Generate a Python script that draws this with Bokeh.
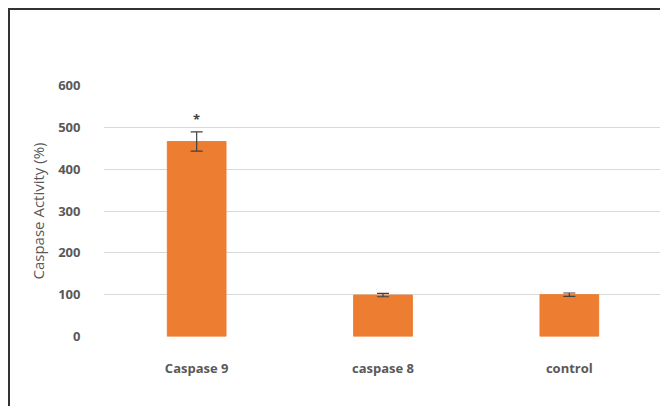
from bokeh.plotting import figure
from bokeh.models import ColumnDataSource, Whisker, TeeHead, Range1d, FactorRange, SingleIntervalTicker
from bokeh.embed import file_html
from bokeh.resources import INLINE
from bokeh.core.properties import value

categories = ["Caspase 9", "caspase 8", "control"]
activity = [466, 99, 100]
errors = [23, 4, 4]
significance = ["*", "", ""]

upper = [a + e for a, e in zip(activity, errors)]
lower = [a - e for a, e in zip(activity, errors)]
star_y = [u + 30 for u in upper]

src = ColumnDataSource(dict(cat=categories, act=activity, up=upper, lo=lower,
                            sig=significance, sy=star_y))

p = figure(width=652, height=398, output_backend="svg", toolbar_location=None,
           x_range=FactorRange(*categories, range_padding=0), y_range=Range1d(0, 600),
           min_border_left=93, min_border_right=0, min_border_top=75, min_border_bottom=72)
p.margin = (8, 0, 0, 8)
p.styles = {"border-top": "2px solid #333333", "border-left": "2px solid #333333"}
p.outline_line_color = None
p.background_fill_color = "white"

p.vbar(x="cat", top="act", width=0.315, source=src, fill_color="#ED7D31", line_color="#ED7D31")

w = Whisker(base="cat", upper="up", lower="lo", source=src, line_color="#404040", line_width=1.2,
            upper_head=TeeHead(size=12, line_color="#404040", line_width=1.2),
            lower_head=TeeHead(size=12, line_color="#404040", line_width=1.2))
w.level = "annotation"
p.add_layout(w)

p.text(x="cat", y="sy", text="sig", source=src, text_align="center", text_baseline="middle",
       text_font=value("Open Sans"), text_font_size="13px", text_color="#404040",
       text_font_style="bold")

p.yaxis.ticker = SingleIntervalTicker(interval=100)
p.ygrid.grid_line_color = "#D9D9D9"
p.ygrid.grid_line_width = 1
p.xgrid.grid_line_color = None

for ax in (p.xaxis[0], p.yaxis[0]):
    ax.axis_line_color = None
    ax.major_tick_line_color = None
    ax.minor_tick_line_color = None
    ax.major_label_text_font = "Open Sans"
    ax.major_label_text_color = "#595959"
    ax.major_label_text_font_style = "bold"

p.yaxis.major_label_text_font_size = "13px"
p.yaxis.major_label_standoff = 17
p.xaxis.major_label_text_font_size = "13px"
p.xaxis.major_label_standoff = 16

p.yaxis.axis_label = "Caspase Activity (%)"
p.yaxis.axis_label_text_font = "Open Sans"
p.yaxis.axis_label_text_font_style = "normal"
p.yaxis.axis_label_text_font_size = "15px"
p.yaxis.axis_label_text_color = "#595959"
p.yaxis.axis_label_standoff = 7

open("out.html", "w").write(file_html(p, INLINE))
